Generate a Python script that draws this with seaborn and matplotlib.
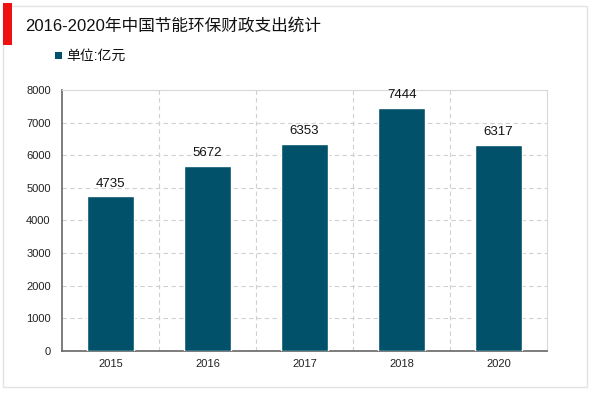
import matplotlib
matplotlib.use("Agg")
import matplotlib.pyplot as plt
import seaborn as sns
import pandas as pd
from matplotlib.patches import Rectangle

years = ["2015", "2016", "2017", "2018", "2020"]
values = [4735, 5672, 6353, 7444, 6317]
title = "2016-2020年中国节能环保财政支出统计"
unit_label = "单位:亿元"

sns.set_theme(style="white")
plt.rcParams['font.family'] = ['Liberation Sans', 'Noto Sans CJK SC', 'DejaVu Sans']

df = pd.DataFrame({"year": years, "value": values})

fig = plt.figure(figsize=(6.0, 3.93), dpi=100)
ax = fig.add_axes([0.103, 0.107, 0.809, 0.664])

bar_color = "#02516B"
sns.barplot(data=df, x="year", y="value", color=bar_color, width=0.49,
            saturation=1, ax=ax, zorder=3)

ax.set_ylim(0, 8000)
ax.set_xlim(-0.5, len(years) - 0.5)
ax.set_yticks(range(0, 8001, 1000))
ax.set_xlabel("")
ax.set_ylabel("")
ax.tick_params(axis="both", labelsize=8, colors="#222222", length=0, pad=6)
ax.tick_params(axis="y", pad=8)

ax.yaxis.grid(True, linestyle=(0, (4, 3)), color="#d0d0d0", linewidth=0.8, zorder=0)
ax.set_xticks([i + 0.5 for i in range(len(years) - 1)], minor=True)
ax.xaxis.grid(True, which="minor", linestyle=(0, (4, 3)), color="#d0d0d0", linewidth=0.8, zorder=0)
ax.tick_params(axis="x", which="minor", length=0)

for side in ["top", "right"]:
    ax.spines[side].set_color("#d9d9d9")
    ax.spines[side].set_linewidth(0.8)
for side in ["left", "bottom"]:
    ax.spines[side].set_color("#666666")
    ax.spines[side].set_linewidth(1.2)

for c in ax.containers:
    ax.bar_label(c, labels=[str(v) for v in values], padding=5, fontsize=9.5, color="#111111")

# outer frame
fig.patches.append(Rectangle((3/600, 6/393), 584/600, 381/393, transform=fig.transFigure,
                             fill=False, edgecolor="#e3e3e3", linewidth=1.0))
# red marker
fig.patches.append(Rectangle((3/600, 1 - 45/393), 9/600, 42/393, transform=fig.transFigure,
                             facecolor="#ee1111", edgecolor="none"))

fig.text(25/600, 1 - 26/393, title, fontsize=12, color="#111111", va="center", ha="left")
fig.patches.append(Rectangle((55/600, 1 - 59/393), 7/600, 7/393, transform=fig.transFigure,
                             facecolor=bar_color, edgecolor="none"))
fig.text(66/600, 1 - 56/393, unit_label, fontsize=10, color="#111111", va="center", ha="left")

fig.savefig("out.png", dpi=100)
